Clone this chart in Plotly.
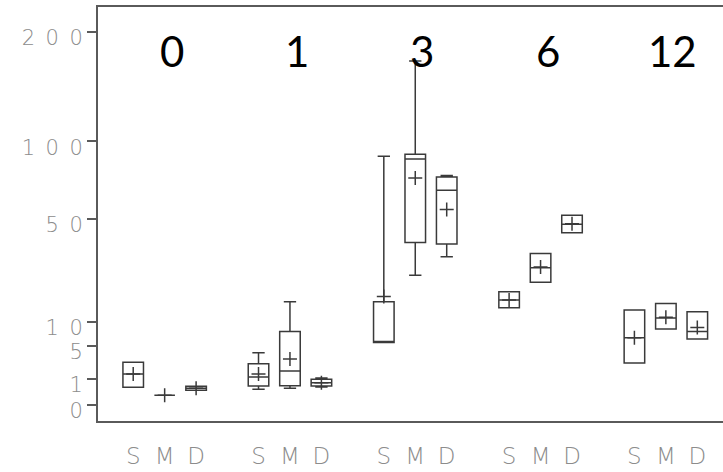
import numpy as np
import plotly.graph_objects as go

# Time points (group headers) and treatments within each time point
groups = ["0", "1", "3", "6", "12"]
treatments = ["S", "M", "D"]

# Box statistics per box, ordered group by group (S, M, D)
q1 = [0.45, 0.135, 0.31,
      0.52, 0.534, 0.518,
      5.64, 37.98, 37.3,
      13.58, 21.7, 42.6,
      2.53, 8.29, 6.25]
median = [1.38, 0.135, 0.40,
          1.125, 1.66, 0.714,
          5.64, 87.0, 66.3,
          15.82, 27.05, 47.0,
          6.50, 10.86, 7.79]
q3 = [2.62, 0.135, 0.50,
      2.45, 7.79, 0.947,
      15.3, 90.4, 74.8,
      18.42, 33.0, 51.8,
      12.95, 14.84, 12.49]
low = [0.45, 0.135, 0.31,
       0.354, 0.40, 0.465,
       5.64, 24.2, 31.55,
       13.58, 21.7, 42.6,
       2.53, 8.29, 6.25]
high = [2.62, 0.135, 0.50,
        3.92, 15.3, 1.046,
        88.96, 170.0, 75.7,
        18.42, 33.0, 51.8,
        12.95, 14.84, 12.49]
mean = [1.38, 0.135, 0.40,
        1.38, 3.04, 0.72,
        16.95, 74.1, 54.95,
        15.82, 27.4, 47.2,
        6.5, 11.1, 8.66]

# Y axis tick values (square-root scale)
ytick_values = [0, 1, 5, 10, 50, 100, 200]

# Layout of boxes along x: group index plus treatment offset
offset = 0.251
xpos = [g + (t - 1) * offset for g in range(len(groups)) for t in range(len(treatments))]
xlabels = [treatments[t] for g in range(len(groups)) for t in range(len(treatments))]

sq = np.sqrt
line_col = "#3a3a3a"
axis_col = "#5a5a5a"
label_col = "#8c8c8c"

fig = go.Figure()

fig.add_trace(go.Box(
    x=xpos,
    q1=sq(q1), median=sq(median), q3=sq(q3),
    lowerfence=sq(low), upperfence=sq(high),
    width=0.164,
    whiskerwidth=0.6,
    line=dict(color=line_col, width=1.5),
    fillcolor="rgba(255,255,255,0)",
    boxpoints=False,
    showlegend=False,
    hoverinfo="skip",
))

fig.add_trace(go.Scatter(
    x=xpos, y=sq(mean),
    mode="markers",
    marker=dict(symbol="cross-thin", size=10,
                line=dict(color=line_col, width=1.5)),
    showlegend=False,
    hoverinfo="skip",
))

for g, name in enumerate(groups):
    fig.add_annotation(
        x=g, y=0.893, xref="x", yref="paper",
        text=name, showarrow=False, xshift=7,
        font=dict(family="Lato", size=42, color="black"),
        xanchor="center", yanchor="middle",
    )

fig.update_xaxes(
    range=[-0.532, 4.456],
    tickmode="array", tickvals=xpos, ticktext=xlabels,
    ticks="", showgrid=False, zeroline=False,
    showline=True, linecolor=axis_col, linewidth=2, mirror=True,
    tickfont=dict(family="DejaVu Sans", size=23, color=label_col, weight=200),
    ticklabelstandoff=13,
    automargin=False,
)

fig.update_yaxes(
    range=[-0.606, 15.09],
    tickmode="array",
    tickvals=[sq(v) for v in ytick_values],
    ticktext=["\u2002".join(str(v)) for v in ytick_values],
    ticks="outside", ticklen=9, tickcolor=axis_col, tickwidth=1.5,
    showgrid=False, zeroline=False,
    showline=True, linecolor=axis_col, linewidth=2, mirror=False,
    tickfont=dict(family="DejaVu Sans", size=21, color=label_col, weight=200),
    ticklabelshift=6,
    automargin=False,
)

fig.update_layout(
    width=723, height=472,
    margin=dict(l=98, r=0, t=7, b=51, autoexpand=False),
    paper_bgcolor="white", plot_bgcolor="white",
)

fig.write_html("out.html")
